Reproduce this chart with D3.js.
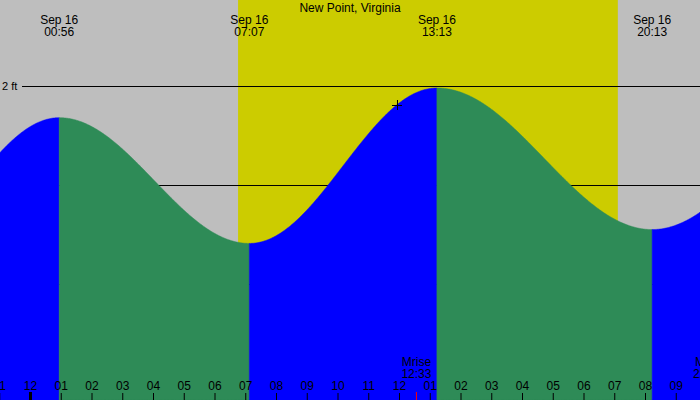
<!DOCTYPE html>
<html><head><meta charset="utf-8">
<script src="https://cdn.jsdelivr.net/npm/d3@7"></script>
<style>body{margin:0}svg{display:block;font-family:"Liberation Sans",Arial,sans-serif}</style>
</head><body>
<svg id="vis-svg" width="700" height="400"></svg>
<script>
// Tide extremes (hours from midnight Sep 16, feet)
var tideHours   = [-5.0, 0.933, 7.117, 13.217, 20.217, 26.6];
var tideHeights = [0.20, 1.68, 0.41, 1.98, 0.55, 1.80];
var shownTides  = [{label: '00:56', t: 0.933}, {label: '07:07', t: 7.117}, {label: '13:13', t: 13.217}, {label: '20:13', t: 20.217}];
var sunrise = 6.75, sunset = 19.1;
var feetTicks = [0, 1, 2];
var hourTicks = d3.range(-1, 23);
var moonEvents = [{label: 'Mrise', time: '12:33', t: 12.55}, {label: 'Mset', time: '22:02', t: 22.03}];

var width = 700, height = 400;
var svg = d3.select('#vis-svg');

var x = d3.scaleLinear().domain([0, 1]).range([30.5, 30.5 + 30.75]);
var y = d3.scaleLinear().domain([0, 1]).range([284, 185]);

// background: night gray, day yellow
svg.append('rect').attr('width', width).attr('height', height).attr('fill', '#bebebe');
svg.append('rect').attr('x', x(sunrise)).attr('width', x(sunset) - x(sunrise))
  .attr('height', height).attr('fill', '#cccc00');

// grid lines
svg.selectAll('.grid').data(feetTicks).enter().append('line')
  .attr('x1', 22).attr('x2', width)
  .attr('y1', function(d){ return y(d) + 0.5; }).attr('y2', function(d){ return y(d) + 0.5; })
  .attr('stroke', '#000');
svg.selectAll('.flab').data(feetTicks).enter().append('text')
  .attr('x', 2).attr('y', function(d){ return y(d) + 4; })
  .attr('font-size', 11).text(function(d){ return d + ' ft'; });

// tide curve by cosine between extremes
function tideAt(t) {
  for (var i = 0; i < tideHours.length - 1; i++) {
    if (t >= tideHours[i] && t <= tideHours[i + 1]) {
      var f = (t - tideHours[i]) / (tideHours[i + 1] - tideHours[i]);
      var k = (1 - Math.cos(Math.PI * f)) / 2;
      return tideHeights[i] + (tideHeights[i + 1] - tideHeights[i]) * k;
    }
  }
  return tideHeights[0];
}
var tMin = x.invert(0), tMax = x.invert(width);
for (var i = 0; i < tideHours.length - 1; i++) {
  var a = Math.max(tideHours[i], tMin), b = Math.min(tideHours[i + 1], tMax);
  if (a >= b) continue;
  var pts = d3.range(a, b, 0.02).concat([b]);
  var area = d3.area().x(function(t){ return x(t); }).y0(height).y1(function(t){ return y(tideAt(t)); });
  var col = tideHeights[i + 1] > tideHeights[i] ? '#0000ff' : '#2e8b57';
  svg.append('path').attr('d', area(pts))
    .attr('fill', col).attr('stroke', col).attr('stroke-width', 0.5);
}

// title and tide labels
svg.append('text').attr('x', 350).attr('y', 12).attr('text-anchor', 'middle')
  .attr('font-size', 12).text('New Point, Virginia');
var tl = svg.selectAll('.tl').data(shownTides).enter().append('g');
tl.append('text').attr('x', function(d){ return x(d.t); }).attr('y', 24)
  .attr('text-anchor', 'middle').attr('font-size', 12).text('Sep 16');
tl.append('text').attr('x', function(d){ return x(d.t); }).attr('y', 36)
  .attr('text-anchor', 'middle').attr('font-size', 12).text(function(d){ return d.label; });

// crosshair
svg.append('path').attr('d', 'M392,105.5H402M397.5,100V110').attr('stroke', '#000');

// hour axis
svg.selectAll('.tick').data(hourTicks).enter().append('line')
  .attr('x1', function(d){ return x(d); }).attr('x2', function(d){ return x(d); })
  .attr('y1', function(d){ return d === 0 ? 392 : 393; }).attr('y2', height)
  .attr('stroke', '#000').attr('stroke-width', function(d){ return d === 0 ? 3 : 1; });
svg.selectAll('.hl').data(hourTicks).enter().append('text')
  .attr('x', function(d){ return x(d); }).attr('y', 390).attr('text-anchor', 'middle')
  .attr('font-size', 12)
  .text(function(d){ var h = ((d % 12) + 12) % 12; return d3.format('02')(h === 0 ? 12 : h); });

// moon events
var me = svg.selectAll('.me').data(moonEvents).enter().append('g');
me.append('line').attr('x1', function(d){ return x(d.t); }).attr('x2', function(d){ return x(d.t); })
  .attr('y1', 392).attr('y2', height).attr('stroke', 'red');
me.append('text').attr('x', function(d){ return x(d.t); }).attr('y', 366).attr('text-anchor', 'middle')
  .attr('font-size', 12).text(function(d){ return d.label; });
me.append('text').attr('x', function(d){ return x(d.t); }).attr('y', 378).attr('text-anchor', 'middle')
  .attr('font-size', 12).text(function(d){ return d.time; });
</script>
</body></html>
